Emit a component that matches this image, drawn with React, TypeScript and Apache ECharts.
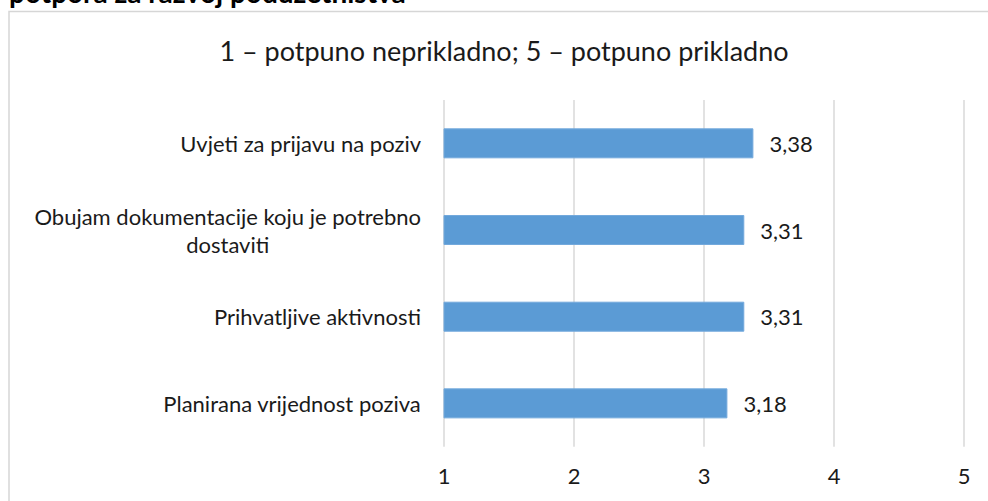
import React, { useEffect, useRef } from "react";
import * as echarts from "echarts";

const categories = [
  "Uvjeti za prijavu na poziv",
  "Obujam dokumentacije koju je potrebno\ndostaviti",
  "Prihvatljive aktivnosti",
  "Planirana vrijednost poziva",
];
const values = [3.38, 3.31, 3.31, 3.18];
const xTicks = [1, 2, 3, 4, 5];
const chartTitle = "1 – potpuno neprikladno; 5 – potpuno prikladno";
const headerText = "potpora za razvoj poduzetništva";

const FONT = "Lato";

export default function App() {
  const ref = useRef<HTMLDivElement>(null);
  useEffect(() => {
    if (!ref.current) return;
    const chart = echarts.init(ref.current, null, { renderer: "svg" });
    chart.setOption({
      animation: false,
      backgroundColor: "#ffffff",
      graphic: [
        {
          type: "rect",
          shape: { x: 9, y: 11.5, width: 1200, height: 700 },
          style: { fill: "none", stroke: "#d6d6d6", lineWidth: 1.5 },
          silent: true,
          z: 0,
        },
        {
          type: "text",
          x: 9,
          y: -8,
          style: {
            text: headerText,
            font: `bold 28px ${FONT}`,
            fill: "#000000",
            textAlign: "left",
            textVerticalAlign: "middle",
          },
        },
        {
          type: "text",
          x: 504,
          y: 50,
          style: {
            text: chartTitle,
            font: `27px ${FONT}`,
            fill: "#1a1a1a",
            textAlign: "center",
            textVerticalAlign: "middle",
          },
        },
      ],
      grid: { left: 444, right: 24, top: 100, bottom: 54.3, containLabel: false },
      xAxis: {
        type: "value",
        min: xTicks[0],
        max: xTicks[xTicks.length - 1],
        interval: 1,
        axisLine: { show: false },
        axisTick: { show: false },
        splitLine: { show: true, lineStyle: { color: "#d9d9d9", width: 1.5 } },
        axisLabel: {
          margin: 18,
          fontFamily: FONT,
          fontSize: 22,
          color: "#1a1a1a",
        },
      },
      yAxis: {
        type: "category",
        inverse: true,
        data: categories,
        axisLine: { show: false },
        axisTick: { show: false },
        axisLabel: {
          margin: 23,
          align: "right",
          formatter: (v: string) => `{a|${v.split("\n").join("}\n{a|")}}`,
          rich: {
            a: {
              align: "center",
              fontFamily: FONT,
              fontSize: 22,
              lineHeight: 28,
              color: "#1a1a1a",
            },
          },
        },
      },
      series: [
        {
          type: "bar",
          data: values,
          barWidth: 30,
          itemStyle: { color: "#5b9bd5", borderColor: "#73a9dc", borderWidth: 1 },
          label: {
            show: true,
            position: "right",
            distance: 16,
            fontFamily: FONT,
            fontSize: 22,
            color: "#1a1a1a",
            formatter: (p: any) => p.value.toFixed(2).replace(".", ","),
          },
        },
      ],
    });
    return () => chart.dispose();
  }, []);
  return (
    <div
      ref={ref}
      style={{ position: "absolute", left: 0, top: 0, width: 988, height: 501 }}
    />
  );
}
